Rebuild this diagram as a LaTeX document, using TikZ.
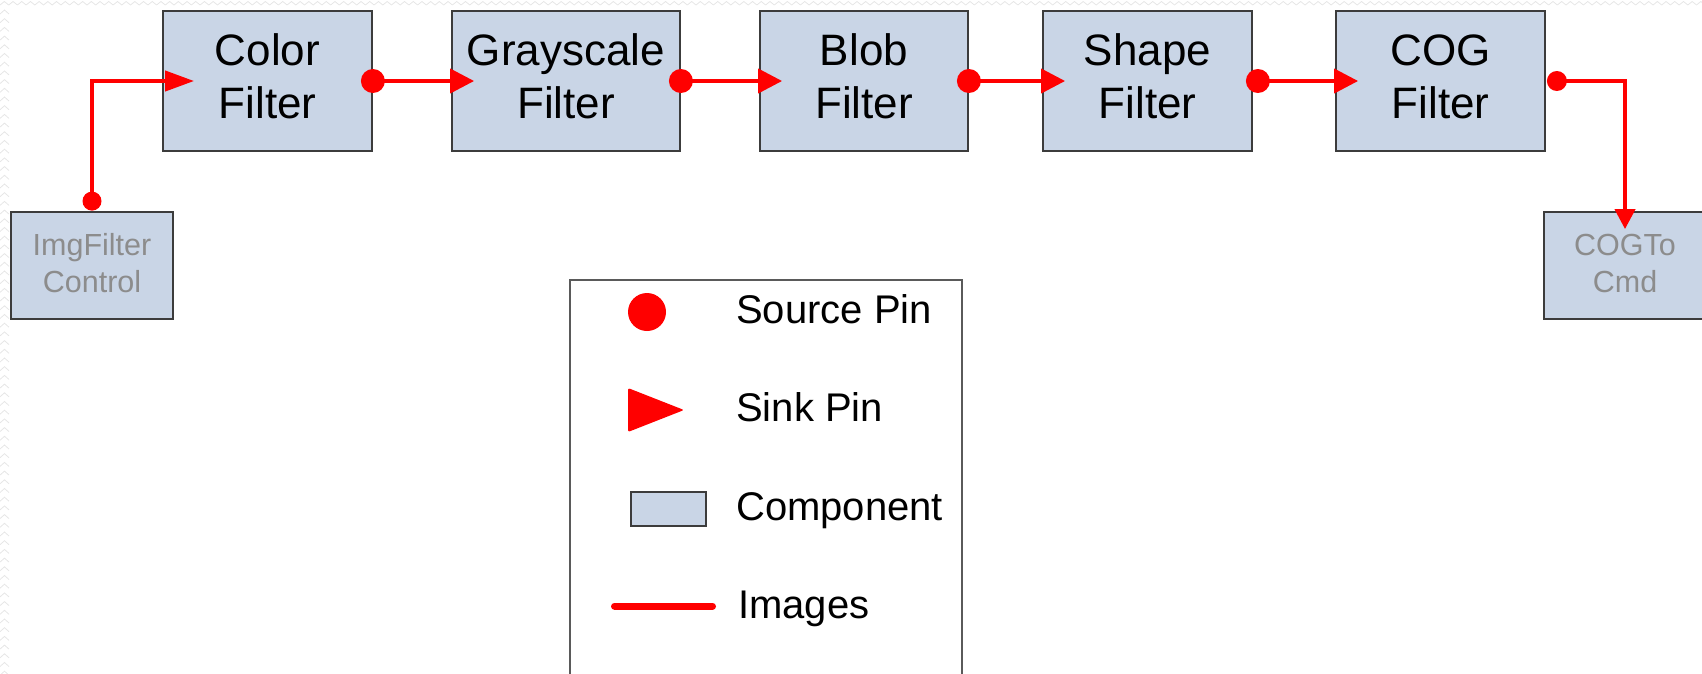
\documentclass[tikz,border=0pt]{standalone}
\usepackage{fontspec}
\setmainfont{Liberation Sans}
\usetikzlibrary{arrows.meta,calc}
\definecolor{boxfill}{HTML}{C9D5E6}
\definecolor{boxline}{HTML}{3C3C3C}
\definecolor{pinred}{HTML}{FF0000}
\definecolor{dimtext}{HTML}{8C8C8C}
\definecolor{texture}{HTML}{E6E6E6}
\definecolor{legline}{HTML}{5A5A5A}
\newcommand\mainlbl[2]{\rule{0pt}{40pt}#1\\#2\rule[-19pt]{0pt}{19pt}}
\newcommand\sidelbl[2]{\rule{0pt}{28pt}#1\\#2\rule[-12pt]{0pt}{12pt}}
\begin{document}
\begin{tikzpicture}[x=1pt,y=-1pt,
  comp/.style={draw=boxline,fill=boxfill,line width=1.8pt,inner sep=0pt,align=center},
  mainbox/.style={comp,minimum height=140pt,font=\fontsize{44}{53}\selectfont},
  sidebox/.style={comp,minimum width=162pt,minimum height=107pt,text=dimtext,font=\fontsize{30.5}{37}\selectfont},
  wire/.style={draw=pinred,line width=4pt},
  sinktip/.style={-{Triangle[length=24pt,width=24pt]},shorten >=-23pt},
  srcdot/.style={fill=pinred},
  legtext/.style={anchor=base west,inner sep=0pt,font=\fontsize{40}{48}\selectfont}]
\useasboundingbox (0,0) rectangle (1702,673);
\clip (0,0) rectangle (1702,673);

% faint slide texture
\foreach \k in {0,...,78} {
  \draw[texture,line width=0.8pt] (0,{\k*8.7+14}) -- (4.5,{\k*8.7+10}) -- (9,{\k*8.7+14});
}
\foreach \k in {0,...,196} {
  \draw[texture,line width=0.8pt] ({\k*8.7},5) -- ({\k*8.7+4.35},1.5) -- ({\k*8.7+8.7},5);
}

% components
\node[mainbox,minimum width=209pt] (cf)  at (267.5,81)  {\mainlbl{Color}{Filter}};
\node[mainbox,minimum width=228pt] (gs)  at (566,81)    {\mainlbl{Grayscale}{Filter}};
\node[mainbox,minimum width=208pt] (bf)  at (864,81)    {\mainlbl{Blob}{Filter}};
\node[mainbox,minimum width=209pt] (sf)  at (1147.5,81) {\mainlbl{Shape}{Filter}};
\node[mainbox,minimum width=209pt] (cog) at (1440.5,81) {\mainlbl{COG}{Filter}};
\node[sidebox] (ifc) at (92,265.5)   {\sidelbl{ImgFilter}{Control}};
\node[sidebox] (ctc) at (1625,265.5) {\sidelbl{COGTo}{Cmd}};

% pins
\coordinate (ifcsrc) at ([yshift=10pt]ifc.north);
\coordinate (cogsrc) at ([xshift=11pt]cog.east);
\coordinate (sfsrc)  at ([xshift=5pt]sf.east);

% connectors
\draw[wire,-{Triangle[length=29pt,width=20pt]},shorten >=-32pt] (ifcsrc) |- (cf.west);
\draw[wire,sinktip] (cf.east) -- (gs.west);
\draw[wire,sinktip] (gs.east) -- (bf.west);
\draw[wire,sinktip] (bf.east) -- (sf.west);
\draw[wire,sinktip] (sfsrc) -- (cog.west);
\draw[wire,-{Triangle[length=20pt,width=20pt]},shorten >=-18pt] (cogsrc) -| (ctc.north);

\fill[srcdot] (ifcsrc) circle[radius=9.5pt];
\fill[srcdot] (cf.east) circle[radius=12pt];
\fill[srcdot] (gs.east) circle[radius=12pt];
\fill[srcdot] (bf.east) circle[radius=12pt];
\fill[srcdot] (sfsrc) circle[radius=12pt];
\fill[srcdot] (cogsrc) circle[radius=10pt];

% legend
\draw[legline,line width=1.5pt] (570,280) rectangle (962,700);
\fill[srcdot] (647,312) circle[radius=19pt];
\node[legtext] (lsrc) at (736,323) {Source Pin};
\fill[pinred,rounded corners=2pt] (628,388) -- (684,410) -- (628,432) -- cycle;
\node[legtext] (lsnk) at (736,421.5) {Sink Pin};
\draw[draw=boxline,fill=boxfill,line width=1.6pt] (631,492) rectangle (706,526);
\node[legtext] (lcmp) at (736,520) {Component};
\draw[pinred,line width=7pt,line cap=round] (614.5,606) -- (712.5,606);
\node[legtext] (limg) at (738,618) {Images};
\end{tikzpicture}
\end{document}
